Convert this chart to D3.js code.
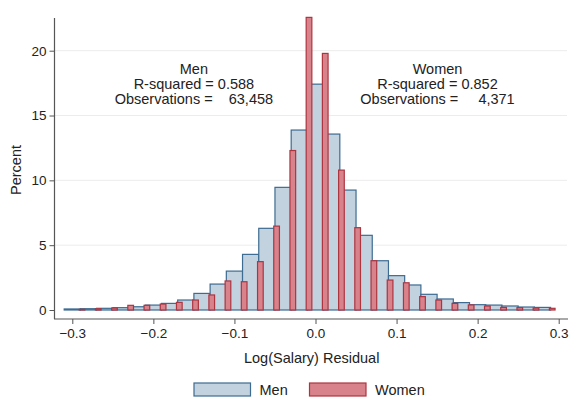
<!DOCTYPE html>
<html><head><meta charset="utf-8">
<script src="https://cdn.jsdelivr.net/npm/d3@7"></script>
<style>body{margin:0;background:#fff}svg{display:block}text{font-family:"Liberation Sans",Arial,sans-serif;fill:#222}</style>
</head><body><svg id="c" width="571" height="400"></svg>
<script>
// Men bins: centers -0.30 .. 0.28 (width 0.02)
const menCenters = [-0.30,-0.28,-0.26,-0.24,-0.22,-0.20,-0.18,-0.16,-0.14,-0.12,-0.10,-0.08,-0.06,-0.04,-0.02,0.00,0.02,0.04,0.06,0.08,0.10,0.12,0.14,0.16,0.18,0.20,0.22,0.24,0.26,0.28];
const menValues = [0.08,0.10,0.13,0.18,0.25,0.38,0.51,0.77,1.28,2.0,3.0,4.29,6.3,9.46,13.88,17.42,13.57,9.25,5.76,3.8,2.65,1.93,1.21,0.85,0.57,0.41,0.38,0.31,0.23,0.2];
// Women bins: centers -0.29 .. 0.29
const womenCenters = [-0.29,-0.27,-0.25,-0.23,-0.21,-0.19,-0.17,-0.15,-0.13,-0.11,-0.09,-0.07,-0.05,-0.03,-0.01,0.01,0.03,0.05,0.07,0.09,0.11,0.13,0.15,0.17,0.19,0.21,0.23,0.25,0.27,0.29];
const womenValues = [0.05,0.1,0.15,0.36,0.36,0.46,0.59,0.77,1.16,2.24,2.18,3.73,6.47,12.3,22.57,19.79,10.79,6.35,3.8,2.31,2.1,1.03,0.77,0.51,0.39,0.31,0.2,0.18,0.15,0.13];
const xTicks = [-0.3,-0.2,-0.1,0.0,0.1,0.2,0.3];
const yTicks = [0,5,10,15,20];
const annotations = [
  {lines:["Men","R-squared = 0.588","Observations =    63,458"], x:-0.15},
  {lines:["Women","R-squared = 0.852","Observations =     4,371"], x:0.1505}
];

const svg = d3.select("#c");
const x = d3.scaleLinear().domain([-0.3,0.3]).range([72.3,558.7]);
const y = d3.scaleLinear().domain([0,20]).range([310,50.7]);
const menW = 0.02;

// gridlines
svg.append("g").selectAll("line").data(yTicks.filter(d=>d>0)).join("line")
  .attr("x1",55).attr("x2",567).attr("y1",d=>y(d)).attr("y2",d=>y(d))
  .attr("stroke","#ececec").attr("stroke-width",1);

// men bars
svg.append("g").selectAll("rect").data(menCenters).join("rect")
  .attr("x",(d)=>x(d-menW/2)).attr("width",d=>x(d+menW/2)-x(d-menW/2))
  .attr("y",(d,i)=>y(menValues[i])).attr("height",(d,i)=>y(0)-y(menValues[i]))
  .attr("fill","#c2d2df").attr("stroke","#3d6b91").attr("stroke-width",1.2);

// women bars
svg.append("g").selectAll("rect").data(womenCenters).join("rect")
  .attr("x",d=>x(d-0.0015)).attr("width",d=>x(d+0.0055)-x(d-0.0015))
  .attr("y",(d,i)=>y(womenValues[i])).attr("height",(d,i)=>y(0)-y(womenValues[i]))
  .attr("fill","#d8828b").attr("stroke","#ad3540").attr("stroke-width",1.2);

// axes
const xAxis = svg.append("g").attr("transform","translate(0,319)")
  .call(d3.axisBottom(x).tickValues(xTicks).tickFormat(d3.format(".1f")).tickSize(5).tickPadding(4));
xAxis.select(".domain").remove();
xAxis.append("line").attr("x1",54).attr("x2",568).attr("y1",0).attr("y2",0).attr("stroke","#555").attr("stroke-width",1.2);
xAxis.selectAll(".tick line").attr("stroke","#555");
xAxis.selectAll(".tick text").attr("font-size",13.5).style("font-family","Liberation Sans, Arial, sans-serif").attr("fill","#222");

const yAxis = svg.append("g").attr("transform","translate(54.5,0)")
  .call(d3.axisLeft(y).tickValues(yTicks).tickSize(5).tickPadding(3));
yAxis.select(".domain").remove();
yAxis.append("line").attr("x1",0).attr("x2",0).attr("y1",18).attr("y2",319).attr("stroke","#555").attr("stroke-width",1.2);
yAxis.selectAll(".tick line").attr("stroke","#555");
yAxis.selectAll(".tick text").attr("font-size",13.5).style("font-family","Liberation Sans, Arial, sans-serif").attr("fill","#222");

// axis titles
svg.append("text").attr("x",311.7).attr("y",363).attr("text-anchor","middle").attr("font-size",14.5).text("Log(Salary) Residual");
svg.append("text").attr("transform","translate(21,170) rotate(-90)").attr("text-anchor","middle").attr("font-size",14.5).text("Percent");

// annotations
annotations.forEach(a=>{
  const t = svg.append("text").attr("text-anchor","middle").attr("font-size",14.5).style("white-space","pre");
  a.lines.forEach((l,i)=>{
    t.append("tspan").attr("x",x(a.x)).attr("y",74+i*14.8).text(l);
  });
});

// legend
const legend = [{name:"Men",fill:"#c2d2df",stroke:"#3d6b91",x:194},{name:"Women",fill:"#d8828b",stroke:"#ad3540",x:309.5}];
const lg = svg.append("g");
legend.forEach(l=>{
  lg.append("rect").attr("x",l.x).attr("y",383).attr("width",56.5).attr("height",13).attr("fill",l.fill).attr("stroke",l.stroke).attr("stroke-width",1.2);
  lg.append("text").attr("x",l.x+65.5).attr("y",395).attr("font-size",14.5).text(l.name);
});
</script></body></html>
